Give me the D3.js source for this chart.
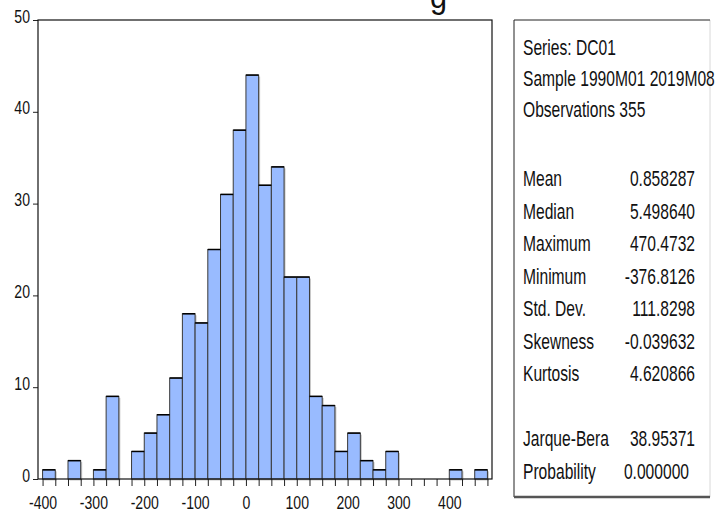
<!DOCTYPE html>
<html>
<head>
<meta charset="utf-8">
<script src="https://cdn.jsdelivr.net/npm/d3@7"></script>
<style>
  html, body { margin: 0; padding: 0; background: #fff; }
  svg { display: block; }
  text { font-family: "Liberation Sans", Arial, sans-serif; fill: #111; }
</style>
</head>
<body>
<svg id="chart" width="726" height="516"></svg>
<script>
// ---- data ----
const binLower = [-400,-375,-350,-325,-300,-275,-250,-225,-200,-175,-150,-125,-100,-75,-50,-25,
                  0,25,50,75,100,125,150,175,200,225,250,275,300,325,350,375,400,425,450];
const binWidth = 25;
const counts = [1,0,2,0,1,9,0,3,5,7,11,18,17,25,31,38,
                44,32,34,22,22,9,8,3,5,2,1,3,0,0,0,0,1,0,1];
const yTicks = [0,10,20,30,40,50];
const xLabelTicks = [-400,-300,-200,-100,0,100,200,300,400];
const xMinorTicks = [-400,-375,-350,-325,-300,-275,-250,-225,-200,-175,-150,-125,-100,-75,-50,-25,
                     0,25,50,75,100,125,150,175,200,225,250,275,300,325,350,375,400,425,450,475];
const headerLines = ["Series: DC01", "Sample 1990M01 2019M08", "Observations 355"];
const statLabels = ["Mean","Median","Maximum","Minimum","Std. Dev.","Skewness","Kurtosis"];
const statValues = ["0.858287","5.498640","470.4732","-376.8126","111.8298","-0.039632","4.620866"];
const testLabels = ["Jarque-Bera","Probability"];
const testValues = ["38.95371","0.000000"];

// ---- layout ----
const svg = d3.select("#chart");
const L = 38, R = 492, T = 20, B = 479;
const x = d3.scaleLinear().domain([-409, 484]).range([L, R]);
const y = d3.scaleLinear().domain([0, 50]).range([B, T]);
const NARROW = 0.74;
const AFS = 19;

// clipped title glyph at the very top
svg.append("text").attr("transform", "translate(430,8) scale(0.9,1)")
  .attr("font-size", 34).text("g");

// bars shadow
const bars = binLower.map((b, i) => ({ x0: b, x1: b + binWidth, n: counts[i] })).filter(d => d.n > 0);
svg.append("g").selectAll("rect").data(bars).join("rect")
  .attr("x", d => x(d.x0) + 1.5).attr("y", d => y(d.n) + 1.5)
  .attr("width", d => x(d.x1) - x(d.x0)).attr("height", d => B - y(d.n))
  .attr("fill", "#c8c8c8");
// bars
svg.append("g").selectAll("rect").data(bars).join("rect")
  .attr("x", d => x(d.x0)).attr("y", d => y(d.n))
  .attr("width", d => x(d.x1) - x(d.x0)).attr("height", d => B - y(d.n))
  .attr("fill", "#99bbff").attr("stroke", "#3a3a3a").attr("stroke-width", 1);
// top edges black
svg.append("g").selectAll("line").data(bars).join("line")
  .attr("x1", d => x(d.x0)).attr("x2", d => x(d.x1))
  .attr("y1", d => y(d.n)).attr("y2", d => y(d.n))
  .attr("stroke", "#000").attr("stroke-width", 1.5);

// x axis
const xAxis = d3.axisBottom(x).tickValues(xMinorTicks).tickSize(7).tickSizeOuter(0).tickPadding(4)
  .tickFormat(d => xLabelTicks.includes(d) ? String(d) : "");
const gx = svg.append("g").attr("transform", `translate(0,${B})`).call(xAxis);
gx.select(".domain").remove();
gx.selectAll(".tick line").attr("stroke", "#222");
gx.selectAll(".tick text").attr("font-size", AFS).attr("font-family", "Liberation Sans, Arial, sans-serif")
  .attr("fill", "#111").attr("dy", null).attr("y", 30).attr("transform", `scale(${NARROW},1)`);

// y axis
const yAxis = d3.axisLeft(y).tickValues(yTicks).tickSize(5).tickSizeOuter(0).tickPadding(4);
const gy = svg.append("g").attr("transform", `translate(${L},0)`).call(yAxis);
gy.select(".domain").remove();
gy.selectAll(".tick line").attr("stroke", "#222");
gy.selectAll(".tick text").attr("font-size", AFS).attr("font-family", "Liberation Sans, Arial, sans-serif")
  .attr("fill", "#111").attr("dy", null).attr("y", 2).attr("x", -8 / NARROW)
  .attr("transform", `scale(${NARROW},1)`);

// frame
svg.append("rect").attr("x", L).attr("y", T).attr("width", R - L).attr("height", B - T)
  .attr("fill", "none").attr("stroke", "#111").attr("stroke-width", 1.2);

// stats box
const bx0 = 514, bx1 = 710, by0 = 20, by1 = 497;
svg.append("line").attr("x1", bx1).attr("x2", bx1).attr("y1", by0).attr("y2", by1)
  .attr("stroke", "#d8d8d8").attr("stroke-width", 1);
svg.append("line").attr("x1", bx0).attr("x2", bx1).attr("y1", by0).attr("y2", by0)
  .attr("stroke", "#222").attr("stroke-width", 1);
svg.append("line").attr("x1", bx0).attr("x2", bx0).attr("y1", by0).attr("y2", by1)
  .attr("stroke", "#222").attr("stroke-width", 1);
svg.append("line").attr("x1", bx0).attr("x2", bx1).attr("y1", by1).attr("y2", by1)
  .attr("stroke", "#555").attr("stroke-width", 2.5);

const SN = 0.71, FS = 22, LX = 523, VX = 695;
function addText(str, xx, yy, anchor) {
  svg.append("text").attr("transform", `translate(${xx},${yy}) scale(${SN},1)`)
    .attr("font-size", FS).attr("text-anchor", anchor).text(str);
}
headerLines.forEach((s, i) => addText(s, LX, 55 + i * 31, "start"));
statLabels.forEach((s, i) => addText(s, LX, 186 + i * 32.5, "start"));
statValues.forEach((s, i) => addText(s, VX, 186 + i * 32.5, "end"));
testLabels.forEach((s, i) => addText(s, LX, 446 + i * 32.5, "start"));
testValues.forEach((s, i) => addText(s, i === 1 ? VX - 6 : VX, 446 + i * 32.5, "end"));
</script>
</body>
</html>
